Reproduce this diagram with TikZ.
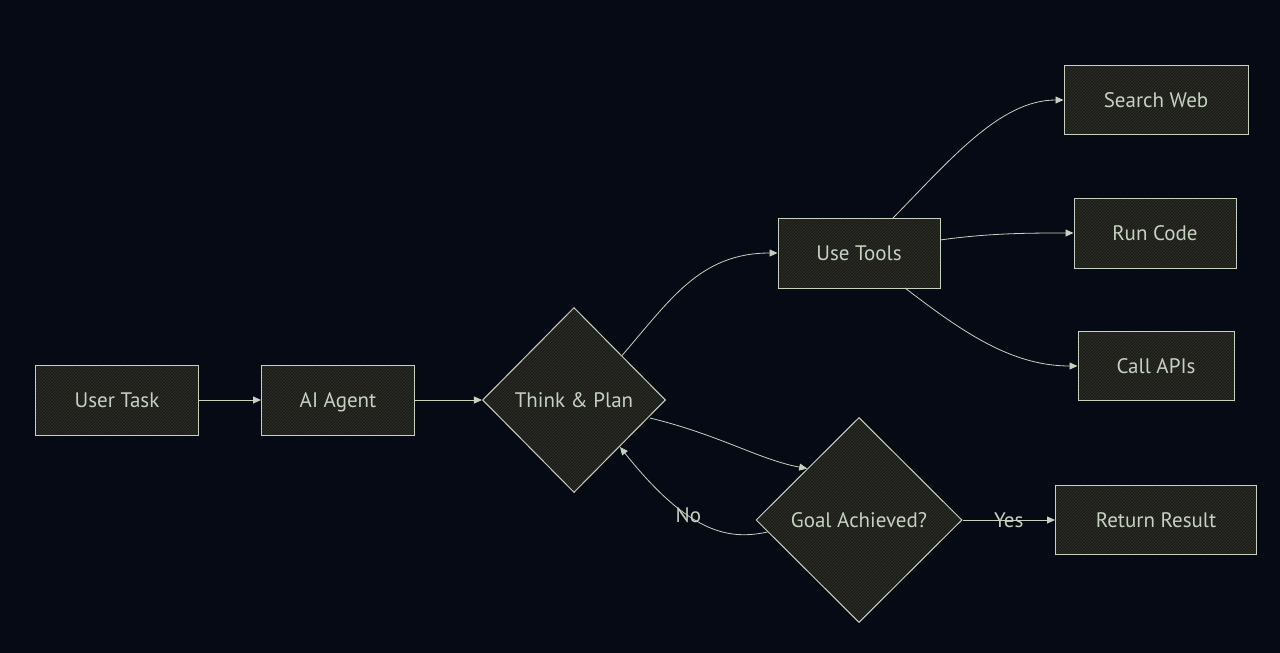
\documentclass[tikz,border=0pt]{standalone}
\usepackage{fontspec}
\setmainfont{PT Sans}
\usetikzlibrary{positioning,shapes.geometric,arrows.meta,patterns}
\definecolor{bgcol}{HTML}{050A14}
\definecolor{inkcol}{HTML}{C6D2BF}
\definecolor{boxfill}{HTML}{1C1D19}
\definecolor{hatchcol}{HTML}{30322B}
\tikzset{
  taskbox/.style={draw=inkcol, line width=1pt, preaction={fill=boxfill}, pattern=north east lines, pattern color=hatchcol,
    text=inkcol, minimum height=70pt, inner sep=0pt, text height=15pt, text depth=0.3pt, font=\fontsize{21}{24}\selectfont},
  choice/.style={diamond, draw=inkcol, line width=1pt, preaction={fill=boxfill}, pattern=north east lines, pattern color=hatchcol,
    text=inkcol, inner sep=0pt, aspect=1, text height=15pt, text depth=0.3pt, font=\fontsize{21}{24}\selectfont},
  flow/.style={draw=inkcol, line width=0.8pt, -{Triangle[length=8pt,width=7pt]}},
  edgelabel/.style={text=inkcol, font=\fontsize{21}{24}\selectfont, inner sep=1pt}
}
\begin{document}
\begin{tikzpicture}[x=1pt,y=-1pt]
  \fill[bgcol] (0,0) rectangle (1280,653);
  \useasboundingbox (0,0) rectangle (1280,653);
  % boxes
  \node[taskbox, minimum width=163pt] (user) at (117,400) {User Task};
  \node[taskbox, minimum width=153pt] (agent) at (338,400) {AI Agent};
  \node[choice, minimum width=183pt, minimum height=185pt] (think) at (574,400) {Think \& Plan};
  \node[taskbox, minimum width=162pt] (tools) at (859,253) {Use Tools};
  \node[taskbox, minimum width=184pt, minimum height=69pt] (web) at (1156,100) {Search Web};
  \node[taskbox, minimum width=162pt] (code) at (1155,233) {Run Code};
  \node[taskbox, minimum width=156pt, minimum height=69pt] (apis) at (1156,366) {Call APIs};
  \node[choice, minimum width=206pt, minimum height=205pt] (goal) at (859,520) {Goal Achieved?};
  \node[taskbox, minimum width=201pt, minimum height=69pt] (result) at (1156,520) {Return Result};
  % arrows
  \draw[flow] (user) -- (agent);
  \draw[flow] (agent) -- (think);
  \draw[flow] (think.north east) ++(2,2) .. controls (670,300) and (700,253) .. (tools.west);
  \draw[flow] (893,218) .. controls (950,160) and (1000,100) .. (web.west);
  \draw[flow] (940,240) .. controls (990,233) and (1030,233) .. (code.west);
  \draw[flow] (905,288) .. controls (960,330) and (1010,366) .. (apis.west);
  \draw[flow] (650,418) .. controls (720,435) and (760,460) .. (goal.north west);
  \draw[flow] (goal.west) ++(12,12) .. controls (730,540) and (690,535) .. (620,447)
    node[edgelabel, pos=0.62] (no) {No};
  \draw[flow] (goal.east) -- (result.west) node[edgelabel, midway] (yes) {Yes};
\end{tikzpicture}
\end{document}
